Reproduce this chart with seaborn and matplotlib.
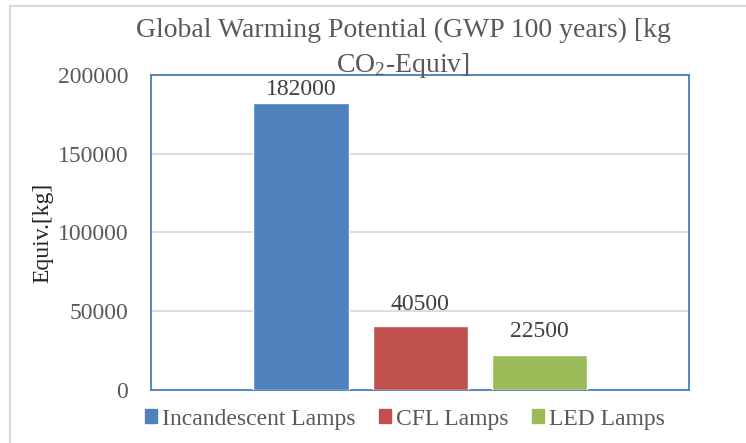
import matplotlib
matplotlib.use("Agg")
import matplotlib.pyplot as plt
import seaborn as sns
import pandas as pd
from matplotlib.patches import Rectangle

categories = ["Incandescent Lamps", "CFL Lamps", "LED Lamps"]
values = [182000, 40500, 22500]
colors = ["#4F81BD", "#C0504D", "#9BBB59"]
yticks = [0, 50000, 100000, 150000, 200000]

sns.set_theme(style="white")
plt.rcParams["font.family"] = ["Liberation Serif", "DejaVu Serif"]
plt.rcParams["mathtext.fontset"] = "custom"
plt.rcParams["mathtext.rm"] = "Liberation Serif"
plt.rcParams["mathtext.it"] = "Liberation Serif:italic"
TXT = "#595959"

W, H = 746, 443
fig = plt.figure(figsize=(W / 100, H / 100), dpi=100)
ax = fig.add_axes([151 / W, 1 - 390 / H, (689 - 151) / W, (390 - 75) / H])

df = pd.DataFrame({"cat": categories, "val": values})
sns.barplot(data=df, x="cat", y="val", hue="cat", palette=colors, width=0.797,
            saturation=1, legend=False, ax=ax, zorder=3)

ax.set_xlim(-1.258, 3.254)
ax.set_ylim(0, 200000)
ax.set_yticks(yticks)
ax.set_yticklabels([str(v) for v in yticks], fontsize=17, color=TXT)
ax.set_xticks([])
ax.set_xlabel("")
ax.set_ylabel("Equiv.[kg]", fontsize=17, color="#262626")
ax.yaxis.set_label_coords(-0.182, 0.5)
ax.tick_params(axis="y", length=0, pad=16.5)
ax.grid(axis="y", color="#D9D9D9", linewidth=1.3, zorder=0)
for s in ax.spines.values():
    s.set_color("#4A7EBB")
    s.set_linewidth(1.3)

label_offsets = [6, 12, 12.5]
for p, v, off in zip(ax.patches, values, label_offsets):
    ax.annotate(str(v), (p.get_x() + p.get_width() / 2, v), xytext=(0, off),
                textcoords="offset points", ha="center", va="baseline",
                fontsize=17, color="#404040")

fig.text(403 / W, 1 - 37 / H, "Global Warming Potential (GWP 100 years) [kg",
         ha="center", va="baseline", fontsize=20, color=TXT)
fig.text(403 / W, 1 - 72 / H, r"CO$_2$-Equiv]",
         ha="center", va="baseline", fontsize=20, color=TXT)

handles = [Rectangle((0, 0), 1, 1, color=c) for c in colors]
fig.legend(handles, categories, loc="center", bbox_to_anchor=(405 / W, 1 - 419 / H),
           ncol=3, frameon=False, fontsize=17, handlelength=0.5, handleheight=0.5,
           handletextpad=0.22, columnspacing=1.0, labelcolor=TXT,
           borderpad=0, borderaxespad=0)

fig.patches.append(Rectangle((10 / W, -0.1), 1.2, 1 - 6 / H + 0.1, transform=fig.transFigure,
                             fill=False, edgecolor="#D9D9D9", linewidth=1.5))

fig.savefig("out.png", dpi=100)
